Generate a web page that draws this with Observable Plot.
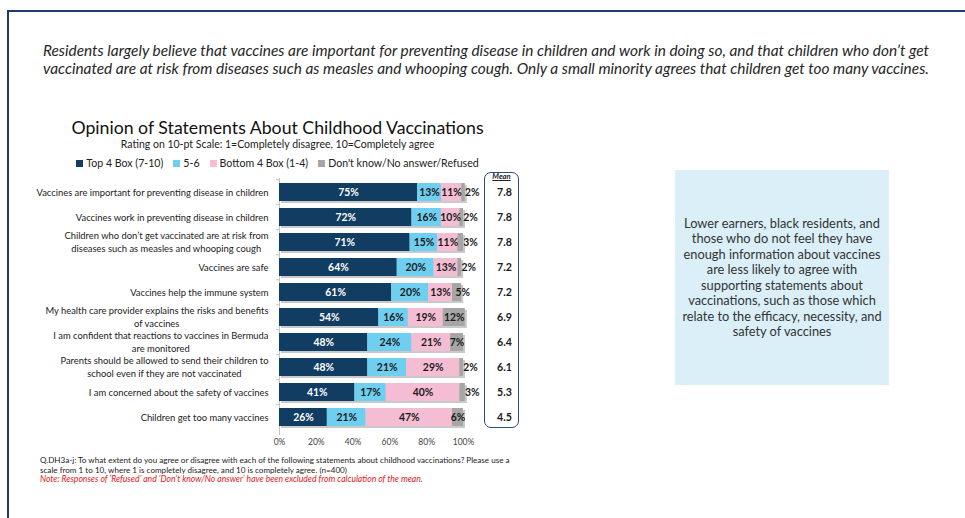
<!DOCTYPE html>
<html><head><meta charset="utf-8">
<script src="https://cdn.jsdelivr.net/npm/d3@7"></script>
<script src="https://cdn.jsdelivr.net/npm/@observablehq/plot@0.6"></script>
<style>
html,body{margin:0;padding:0;background:#fff;}
body{width:965px;height:518px;position:relative;overflow:hidden;font-family:Lato,"Open Sans",sans-serif;color:#222;}
.abs{position:absolute;}
#frame{left:7px;top:10px;width:970px;height:520px;border-top:2px solid #1f3a68;border-left:2px solid #1f3a68;box-sizing:border-box;}
#header{left:7px;width:958px;top:41px;text-align:center;font-style:italic;font-size:15.4px;line-height:18px;color:#262626;white-space:nowrap;}
#title{left:0;width:555px;top:117px;text-align:center;font-size:17.7px;color:#111;}
#subtitle{left:0;width:555px;top:138px;text-align:center;font-size:10.5px;color:#222;}
#legend{left:0;width:555px;top:157px;display:flex;justify-content:center;font-size:10.6px;color:#222;gap:10px;}
#legend span.sw{display:inline-block;width:7px;height:7px;margin-right:3px;vertical-align:0px;}
#meanbox{left:484px;top:172px;width:35px;height:256px;border:1.5px solid #2c4b78;border-radius:7px;box-sizing:border-box;}
#meanhdr{left:484px;width:35px;top:171px;text-align:center;font-size:7.6px;font-weight:bold;font-style:italic;text-decoration:underline;color:#222;}
#note{left:675px;top:170px;width:214px;height:215px;background:#daeff7;display:flex;align-items:center;justify-content:center;text-align:center;font-size:12.8px;line-height:15.5px;color:#333;padding:0 4px;box-sizing:border-box;}
#foot{left:40px;top:456px;font-size:8.1px;line-height:9.6px;color:#222;width:470px;}
#foot .red{color:#e0201c;font-style:italic;font-size:8.6px;}
#chart{left:0;top:150px;}
</style></head>
<body>
<div id="frame" class="abs"></div>
<div id="header" class="abs">Residents largely believe that vaccines are important for preventing disease in children and work in doing so, and that children who don’t get<br>vaccinated are at risk from diseases such as measles and whooping cough. Only a small minority agrees that children get too many vaccines.</div>
<div id="title" class="abs">Opinion of Statements About Childhood Vaccinations</div>
<div id="subtitle" class="abs">Rating on 10-pt Scale: 1=Completely disagree, 10=Completely agree</div>
<div id="legend" class="abs"></div>
<div id="chart" class="abs"></div>
<div id="meanbox" class="abs"></div>
<div id="meanhdr" class="abs">Mean</div>
<div id="note" class="abs">Lower earners, black residents, and those who do not feel they have enough information about vaccines are less likely to agree with supporting statements about vaccinations, such as those which relate to the efficacy, necessity, and safety of vaccines</div>
<div id="foot" class="abs">Q.DH3a-j: To what extent do you agree or disagree with each of the following statements about childhood vaccinations? Please use a scale from 1 to 10, where 1 is completely disagree, and 10 is completely agree. (n=400)<br><span class="red">Note: Responses of ‘Refused’ and ‘Don’t know/No answer’ have been excluded from calculation of the mean.</span></div>
<script>
const categories = [
  "Vaccines are important for preventing disease in children",
  "Vaccines work in preventing disease in children",
  "Children who don’t get vaccinated are at risk from\ndiseases such as measles and whooping cough",
  "Vaccines are safe",
  "Vaccines help the immune system",
  "My health care provider explains the risks and benefits\nof vaccines",
  "I am confident that reactions to vaccines in Bermuda\nare monitored",
  "Parents should be allowed to send their children to\nschool even if they are not vaccinated",
  "I am concerned about the safety of vaccines",
  "Children get too many vaccines"
];
const seriesNames = ["Top 4 Box (7-10)", "5-6", "Bottom 4 Box (1-4)", "Don't know/No answer/Refused"];
const top4   = [75, 72, 71, 64, 61, 54, 48, 48, 41, 26];
const mid56  = [13, 16, 15, 20, 20, 16, 24, 21, 17, 21];
const bottom4= [11, 10, 11, 13, 13, 19, 21, 29, 40, 47];
const dkna   = [2, 2, 3, 2, 5, 12, 7, 2, 3, 6];
const means  = [7.8, 7.8, 7.8, 7.2, 7.2, 6.9, 6.4, 6.1, 5.3, 4.5];
const xTicks = [0, 20, 40, 60, 80, 100];
const colors = ["#123d63", "#6fcff0", "#f5bdd3", "#a6a6a6"];

// legend
const leg = document.getElementById("legend");
seriesNames.forEach((s, k) => {
  const d = document.createElement("div");
  d.innerHTML = `<span class="sw" style="background:${colors[k]}"></span>${s}`;
  leg.appendChild(d);
});

const seriesVals = [top4, mid56, bottom4, dkna];
const segs = [];
const totals = [];
categories.forEach((c, i) => {
  let acc = 0;
  seriesVals.forEach((arr, k) => {
    const v = arr[i];
    segs.push({cat: c, series: seriesNames[k], k, value: v, x1: acc, x2: acc + v});
    acc += v;
  });
  totals.push({cat: c, total: acc, mean: means[i]});
});

// label rows
const LFS = 9.4;
const cv = document.createElement("canvas").getContext("2d");
cv.font = LFS + "px Lato";
const rows = categories.map(c => {
  const parts = c.split("\n");
  return {cat: c, l1: parts[0], l2: parts[1] || null, w1: cv.measureText(parts[0]).width};
});

const W = 520, H = 305, ML = 279, MR = 57, MT = 23, MB = 20, PAD = 0.29;
const step = (H - MT - MB) / (categories.length - PAD + 2 * PAD);
const labelMarks = [];
labelMarks.push(Plot.text(rows.filter(r => !r.l2), {x: () => 0, y: "cat", text: "l1", textAnchor: "end", dx: -11, fontSize: LFS, fill: "#222"}));
labelMarks.push(Plot.text(rows.filter(r => r.l2), {x: () => 0, y: "cat", text: "l1", textAnchor: "end", dx: -11, dy: -6.5, fontSize: LFS, fill: "#222"}));
rows.filter(r => r.l2).forEach(r => {
  labelMarks.push(Plot.text([r], {x: () => 0, y: "cat", text: "l2", textAnchor: "middle", dx: -11 - r.w1 / 2, dy: 6.5, fontSize: LFS, fill: "#222"}));
});

const inside = segs.filter(d => d.k < 3 || d.value >= 6);
const edge = segs.filter(d => d.k === 3 && d.value >= 4 && d.value < 6);
const outside = segs.filter(d => d.k === 3 && d.value < 4);
const PFS = 10.4;

const chart = Plot.plot({
  width: W, height: H,
  marginLeft: ML, marginRight: MR, marginTop: MT, marginBottom: MB,
  style: {fontFamily: "Lato, sans-serif", background: "transparent", overflow: "visible"},
  x: {domain: [0, 100], ticks: xTicks, tickFormat: d => d + "%", tickSize: 0, tickPadding: 3, label: null},
  y: {domain: categories, padding: PAD, axis: null},
  color: {domain: seriesNames, range: colors},
  marks: [
    Plot.axisX({ticks: xTicks, tickFormat: d => d + "%", tickSize: 0, tickPadding: 3, fontSize: 8.5, color: "#444", label: null}),
    Plot.ruleX([0], {stroke: "#c4c4c4", insetTop: 5}),
    Plot.ruleY(categories, {y: d => d, x1: () => -1.6, x2: () => 0, dy: -step / 2, stroke: "#c4c4c4"}),
    Plot.barX(totals, {x1: () => 0, x2: "total", y: "cat", fill: "#c9c9c9", dx: 2, dy: 2}),
    Plot.barX(segs, {x1: "x1", x2: "x2", y: "cat", fill: "series"}),
    Plot.text(inside, {x: d => (d.x1 + d.x2) / 2, y: "cat", text: d => d.value + "%", fill: d => d.k === 0 ? "#fff" : "#1a1a1a", fontWeight: "bold", fontSize: PFS}),
    Plot.text(edge, {x: "x2", y: "cat", text: d => d.value + "%", textAnchor: "middle", dx: 1, fill: "#1a1a1a", fontWeight: "bold", fontSize: PFS}),
    Plot.text(outside, {x: "x2", y: "cat", text: d => d.value + "%", textAnchor: "middle", dx: 7, fill: "#1a1a1a", fontWeight: "bold", fontSize: PFS}),
    Plot.text(totals, {y: "cat", text: d => d.mean.toFixed(1), frameAnchor: "right", textAnchor: "middle", dx: 41, fontWeight: "bold", fontSize: 10.6, fill: "#1a1a1a"}),
    ...labelMarks
  ]
});
document.getElementById("chart").appendChild(chart);
</script>
</body></html>
